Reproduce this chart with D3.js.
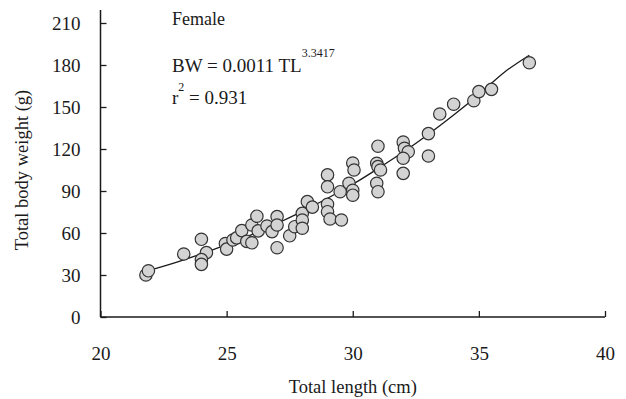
<!DOCTYPE html>
<html>
<head>
<meta charset="utf-8">
<script src="https://cdn.jsdelivr.net/npm/d3@7"></script>
<style>
  html, body { margin: 0; padding: 0; background: #fff; }
  svg { display: block; }
  text { font-family: "Liberation Serif", "Times New Roman", serif; fill: #1a1a1a; }
</style>
</head>
<body>
<svg id="chart" width="626" height="399"></svg>
<script>
// Data
const lengthCm = [21.8, 21.9, 23.3, 24.0, 24.2, 24.0, 24.0, 24.95, 25.0, 25.25,
  25.4, 25.6, 25.8, 26.0, 26.0, 26.2, 26.25, 26.6, 26.8, 27.0,
  27.0, 27.0, 27.5, 27.7, 28.0, 28.0, 28.0, 28.2, 28.4, 29.0,
  29.0, 29.0, 29.0, 29.1, 29.55, 29.5, 29.85, 30.0, 30.0, 30.0,
  30.05, 31.0, 30.95, 31.0, 31.1, 30.95, 31.0, 32.0, 32.05, 32.2,
  32.0, 32.0, 33.0, 33.0, 33.45, 34.0, 34.8, 35.0, 35.5, 37.0];
const weightG = [30, 33, 45, 55.5, 46, 41, 37.6, 52.5, 48.5, 55,
  56.5, 61.7, 54, 53, 65.7, 72, 61.5, 65, 61, 71.7,
  65.7, 49.5, 58, 64.5, 74, 69.3, 63.4, 82.4, 78.5, 101.5,
  93, 80.5, 75.2, 70, 69.3, 89.5, 95.5, 90.5, 87, 110,
  105, 122, 109.8, 107.4, 105, 95.5, 89.5, 125, 120.5, 118,
  113.4, 102.6, 131, 115, 145, 152, 154.5, 161, 162.6, 181.6];
// Fitted trend line (as drawn in the reference)
const trendLength = [21.8, 23, 24, 25, 26, 27, 28, 29, 30, 31, 32, 33, 34, 35, 36, 37];
const trendWeight = [32.7, 39.1, 45.1, 51.7, 58.9, 66.8, 75.4, 84.8, 94.8, 106, 117.8, 130.6, 144.3, 159, 174.7, 187];
const xTicks = [20, 25, 30, 35, 40];
const yTicks = [0, 30, 60, 90, 120, 150, 180, 210];

const svg = d3.select("#chart");
const x = d3.scaleLinear().domain([20, 40]).range([100.5, 605]);
const y = d3.scaleLinear().domain([0, 210]).range([317, 23]);

// Y axis
const yAxis = d3.axisLeft(y).tickValues(yTicks).tickSizeInner(-6).tickSizeOuter(0).tickPadding(20);
const gy = svg.append("g").attr("transform", `translate(${x(20)},0)`).call(yAxis);
gy.select(".domain").remove();
gy.selectAll(".tick line").attr("stroke", "#1a1a1a").attr("stroke-width", 1.3);
gy.selectAll(".tick text").style("font-size", "19px").style("font-family", "Liberation Serif");
svg.append("line").attr("x1", x(20)).attr("x2", x(20)).attr("y1", 10).attr("y2", y(0))
  .attr("stroke", "#1a1a1a").attr("stroke-width", 1.5);

// X axis
const xAxis = d3.axisBottom(x).tickValues(xTicks).tickSizeInner(-6).tickSizeOuter(0).tickPadding(30);
const gx = svg.append("g").attr("transform", `translate(0,${y(0)})`).call(xAxis);
gx.select(".domain").remove();
gx.selectAll(".tick line").attr("stroke", "#1a1a1a").attr("stroke-width", 1.3);
gx.selectAll(".tick text").style("font-size", "19px").style("font-family", "Liberation Serif");
svg.append("line").attr("x1", x(20)).attr("x2", x(40)).attr("y1", y(0)).attr("y2", y(0))
  .attr("stroke", "#1a1a1a").attr("stroke-width", 1.5);

// Trend line
const line = d3.line().x((d, i) => x(trendLength[i])).y((d, i) => y(trendWeight[i])).curve(d3.curveMonotoneX);
svg.append("path").datum(trendLength).attr("d", line)
  .attr("fill", "none").attr("stroke", "#1a1a1a").attr("stroke-width", 1.3);

// Points
svg.append("g").selectAll("circle").data(lengthCm).join("circle")
  .attr("cx", (d) => x(d)).attr("cy", (d, i) => y(weightG[i])).attr("r", 6.2)
  .attr("fill", "#d3d3d3").attr("stroke", "#333").attr("stroke-width", 1.2);

// Axis titles
svg.append("text").attr("x", x(30)).attr("y", 393).attr("text-anchor", "middle")
  .style("font-size", "18.5px").text("Total length (cm)");
svg.append("text").attr("transform", `translate(28,${y(105)}) rotate(-90)`).attr("text-anchor", "middle")
  .style("font-size", "18.5px").text("Total body weight (g)");

// Annotations
svg.append("text").attr("x", 172).attr("y", 25).style("font-size", "18px").text("Female");
const eq = svg.append("text").attr("x", 172).attr("y", 72).style("font-size", "19px");
eq.append("tspan").text("BW = 0.0011 TL");
eq.append("tspan").attr("dy", -15).style("font-size", "12px").text("3.3417");
const r2 = svg.append("text").attr("x", 172).attr("y", 104).style("font-size", "19px");
r2.append("tspan").text("r");
r2.append("tspan").attr("dy", -13).style("font-size", "12px").text("2");
r2.append("tspan").attr("dy", 13).text(" = 0.931");
</script>
</body>
</html>
